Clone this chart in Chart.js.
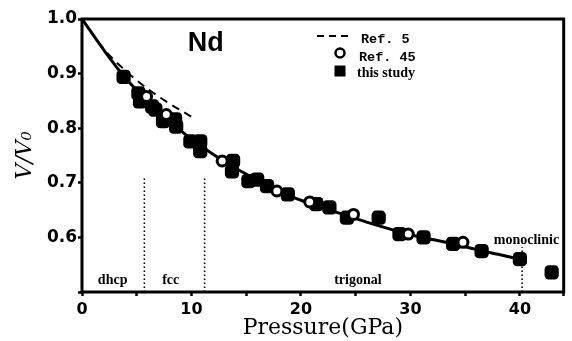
<!DOCTYPE html>
<html>
<head>
<meta charset="utf-8">
<script src="https://cdn.jsdelivr.net/npm/chart.js@4.4.1/dist/chart.umd.min.js"></script>
<style>
    html, body { margin: 0; padding: 0; background: #fff; }
    #wrap { width: 572px; height: 341px; position: relative; }
</style>
</head>
<body>
<div id="wrap"><canvas id="graficoNd"></canvas></div>
<script>
// this study (filled squares)
const studyP = [3.8, 5.15, 5.3, 6.4, 6.7, 7.4, 8.5, 8.6, 9.9, 10.8, 10.8, 13.8, 13.7, 15.2, 16.0, 16.9, 18.8, 21.4, 22.6, 24.2, 27.1, 29.0, 31.2, 33.9, 36.5, 40.0, 42.9];
const studyV = [0.894, 0.864, 0.849, 0.840, 0.834, 0.813, 0.816, 0.803, 0.776, 0.776, 0.758, 0.740, 0.721, 0.703, 0.706, 0.694, 0.679, 0.661, 0.655, 0.636, 0.636, 0.606, 0.600, 0.588, 0.575, 0.560, 0.536];

// Ref. 45 (open circles)
const ref45P = [5.9, 7.7, 12.8, 17.8, 20.8, 24.8, 29.8, 34.8];
const ref45V = [0.858, 0.825, 0.740, 0.685, 0.665, 0.642, 0.606, 0.591];

// Ref. 5 (dashed)
const ref5P = [0, 2, 4, 6, 8, 10];
const ref5V = [1.0, 0.945, 0.905, 0.872, 0.845, 0.821];

// fitted curve (solid)
const fitP = [0, 2, 4, 6, 8, 10, 12, 14, 16, 18, 20, 22, 24, 26, 28, 30, 32, 34, 36, 38, 40];
const fitV = [1.0, 0.943, 0.891, 0.850, 0.813, 0.780, 0.752, 0.727, 0.705, 0.684, 0.668, 0.654, 0.641, 0.628, 0.616, 0.605, 0.596, 0.588, 0.578, 0.569, 0.560];

// phase boundaries
const boundP = [5.7, 11.2, 40.2];
const boundTop = [0.71, 0.71, 0.582];

// phase labels
const phaseNames = ["dhcp", "fcc", "trigonal", "monoclinic"];
const phaseP = [2.8, 8.1, 25.2, 40.6];
const phaseV = [0.521, 0.521, 0.521, 0.594];

const xTicks = [0, 10, 20, 30, 40];

function pts(xs, ys) {
    return xs.map((x, i) => ({ x: x, y: ys[i] }));
}

const boundSets = boundP.map((p, i) => ({
    data: [{ x: p, y: 0.5 }, { x: p, y: boundTop[i] }],
    showLine: true,
    borderColor: "#000",
    borderWidth: 1.6,
    borderDash: [1.6, 2.4],
    pointRadius: 0,
    order: 4
}));

const frame = {
    id: "frame",
    afterDatasetsDraw(chart) {
        const { ctx, chartArea: a, scales } = chart;
        ctx.save();
        ctx.strokeStyle = "#000";
        ctx.lineWidth = 3;
        ctx.strokeRect(a.left, a.top, a.right - a.left, a.bottom - a.top);

        ctx.fillStyle = "#000";
        ctx.textAlign = "center";
        ctx.textBaseline = "middle";
        ctx.font = "bold 27px 'Liberation Sans'";
        ctx.fillText("Nd", scales.x.getPixelForValue(11.3), scales.y.getPixelForValue(0.955));

        ctx.font = "bold 14px 'Liberation Serif'";
        phaseNames.forEach((n, i) => {
            ctx.fillText(n, scales.x.getPixelForValue(phaseP[i]), scales.y.getPixelForValue(phaseV[i]));
        });

        // legend
        ctx.lineWidth = 2;
        ctx.setLineDash([7, 5]);
        ctx.beginPath();
        ctx.moveTo(317, 36);
        ctx.lineTo(350, 36);
        ctx.stroke();
        ctx.setLineDash([]);
        ctx.lineWidth = 2.5;
        ctx.beginPath();
        ctx.arc(340, 53, 4.5, 0, Math.PI * 2);
        ctx.stroke();
        ctx.fillRect(334.5, 65.5, 11, 11);

        ctx.textAlign = "left";
        ctx.font = "bold 13.5px 'Liberation Mono'";
        ctx.fillText("Ref. 5", 361, 40);
        ctx.fillText("Ref. 45", 359, 58);
        ctx.font = "bold 14px 'Liberation Serif'";
        ctx.fillText("this study", 357, 73);
        ctx.restore();
    }
};

new Chart(document.getElementById("graficoNd"), {
    type: "scatter",
    data: {
        datasets: [
            {
                label: "Ref. 45",
                data: pts(ref45P, ref45V),
                pointStyle: "circle",
                pointRadius: 5,
                pointBorderWidth: 3,
                pointBackgroundColor: "#fff",
                pointBorderColor: "#000",
                order: 0
            },
            {
                label: "this study",
                data: pts(studyP, studyV),
                pointStyle: "rectRounded",
                pointRadius: 8.3,
                pointBorderWidth: 0,
                pointBackgroundColor: "#000",
                pointBorderColor: "#000",
                order: 1
            },
            {
                label: "fit",
                data: pts(fitP, fitV),
                showLine: true,
                cubicInterpolationMode: "monotone",
                borderColor: "#000",
                borderWidth: 3,
                pointRadius: 0,
                order: 2
            },
            {
                label: "Ref. 5",
                data: pts(ref5P, ref5V),
                showLine: true,
                cubicInterpolationMode: "monotone",
                borderColor: "#000",
                borderWidth: 2,
                borderDash: [8, 6],
                pointRadius: 0,
                order: 3
            },
            ...boundSets
        ]
    },
    options: {
        responsive: true,
        maintainAspectRatio: false,
        animation: false,
        layout: { padding: { top: 19, right: 7, left: 0, bottom: 0 } },
        plugins: {
            legend: { display: false },
            tooltip: { enabled: false }
        },
        scales: {
            x: {
                min: 0,
                max: 44,
                afterFit: (s) => { s.height = 49; },
                border: { display: false },
                grid: { drawOnChartArea: false, tickLength: 4, tickWidth: 2.5, tickColor: "#000" },
                ticks: {
                    stepSize: 5,
                    color: "#000",
                    padding: 4,
                    maxRotation: 0,
                    font: { family: "'DejaVu Sans'", weight: "bold", size: 16 },
                    callback: (v) => xTicks.includes(v) ? v : ""
                },
                title: {
                    display: true,
                    text: "Pressure(GPa)",
                    color: "#000",
                    padding: 0,
                    font: { family: "'DejaVu Serif'", size: 22 }
                }
            },
            y: {
                min: 0.5,
                max: 1.0,
                afterFit: (s) => { s.width = 82; },
                border: { display: false },
                grid: { drawOnChartArea: false, tickLength: 4, tickWidth: 2.5, tickColor: "#000" },
                ticks: {
                    stepSize: 0.1,
                    color: "#000",
                    padding: 1,
                    font: { family: "'DejaVu Sans'", weight: "bold", size: 17 },
                    callback: (v) => v < 0.55 ? "" : v.toFixed(1)
                },
                title: {
                    display: true,
                    text: "V/V\u2080",
                    color: "#000",
                    padding: { top: 12, bottom: 0 },
                    font: { family: "'DejaVu Serif'", style: "italic", size: 22 }
                }
            }
        }
    },
    plugins: [frame]
});
</script>
</body>
</html>
